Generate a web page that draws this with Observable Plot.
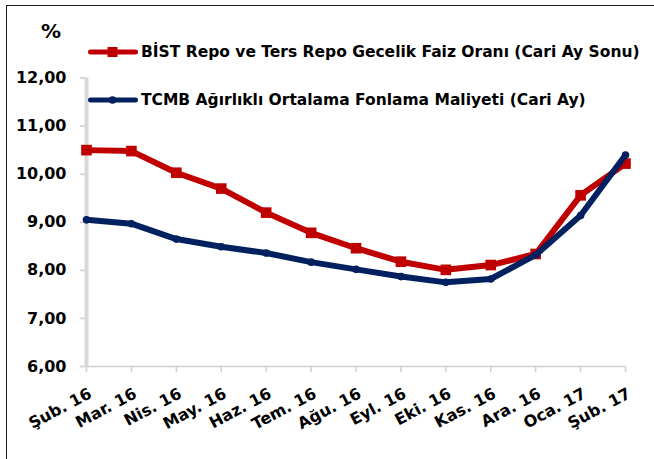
<!DOCTYPE html>
<html>
<head>
<meta charset="utf-8">
<script src="https://cdn.jsdelivr.net/npm/d3@7"></script>
<script src="https://cdn.jsdelivr.net/npm/@observablehq/plot@0.6"></script>
<style>
  body { margin: 0; background: #fff; }
  #wrap { position: relative; width: 654px; height: 459px; overflow: hidden;
          font-family: "DejaVu Sans", sans-serif; font-weight: bold; color: #000; }
  #frame { position: absolute; left: 6px; top: 5px; width: 700px; height: 500px;
           border-left: 1.5px solid #1a1a1a; border-top: 1.5px solid #1a1a1a; }
  #chart { position: absolute; left: 0; top: 0; }
  .unit { position: absolute; left: 41px; top: 19px; font-size: 20px; line-height: 24px; }
  .leg { position: absolute; left: 88px; height: 20px; display: flex; align-items: center;
         font-size: 15.5px; line-height: 20px; white-space: nowrap; }
  .leg svg { margin-right: 3px; flex: none; }
</style>
</head>
<body>
<div id="wrap">
  <div id="frame"></div>
  <div id="chart"></div>
  <div class="unit">%</div>
  <div id="legend"></div>
</div>
<script>
// Data
const months = ["Şub. 16","Mar. 16","Nis. 16","May. 16","Haz. 16","Tem. 16","Ağu. 16",
                "Eyl. 16","Eki. 16","Kas. 16","Ara. 16","Oca. 17","Şub. 17"];
const bist = [10.50, 10.48, 10.03, 9.70, 9.20, 8.78, 8.46, 8.18, 8.01, 8.11, 8.34, 9.56, 10.22];
const tcmb = [9.05, 8.97, 8.65, 8.49, 8.36, 8.17, 8.02, 7.87, 7.75, 7.82, 8.32, 9.14, 10.40];
const yTicks = [6, 7, 8, 9, 10, 11, 12];
const seriesNames = ["BİST Repo ve Ters Repo Gecelik Faiz Oranı (Cari Ay Sonu)",
                     "TCMB Ağırlıklı Ortalama Fonlama Maliyeti (Cari Ay)"];
const RED = "#C00000", NAVY = "#002060";

const data = months.map((m, i) => ({month: m, bist: bist[i], tcmb: tcmb[i]}));
const fmt = d => d.toFixed(2).replace(".", ",");

const chart = Plot.plot({
  width: 654,
  height: 459,
  marginTop: 77.5,
  marginBottom: 93,
  marginLeft: 86,
  marginRight: 29,
  style: {fontFamily: "DejaVu Sans, sans-serif", fontWeight: "bold", background: "transparent", color: "#000"},
  x: {type: "point", domain: months, padding: 0, inset: 0, round: false},
  y: {domain: [6, 12]},
  marks: [
    Plot.axisY({ticks: yTicks, tickSize: 6, tickPadding: 14, tickFormat: fmt, fontSize: 16,
                stroke: "#d9d9d9", strokeWidth: 2, fill: "#000", label: null}),
    Plot.ruleY([6], {stroke: "#d0d0d0", strokeWidth: 1.5}),
    Plot.axisX({tickSize: 6, tickFormat: () => "", stroke: "#d0d0d0", strokeWidth: 1.5, label: null}),
    Plot.ruleX([months[0]], {stroke: "#d9d9d9", strokeWidth: 4}),
    Plot.text(months, {x: d => d, text: d => d, frameAnchor: "bottom", dy: 26, dx: 4,
                       rotate: -28, textAnchor: "end", lineAnchor: "middle", fontSize: 16, fill: "#000"}),
    Plot.line(data, {x: "month", y: "bist", stroke: RED, strokeWidth: 6, strokeLinejoin: "round"}),
    Plot.dot(data, {x: "month", y: "bist", symbol: "square", r: 6, fill: RED}),
    Plot.line(data, {x: "month", y: "tcmb", stroke: NAVY, strokeWidth: 6, strokeLinejoin: "round", strokeLinecap: "round"}),
    Plot.dot(data, {x: "month", y: "tcmb", r: 3.8, fill: NAVY})
  ]
});
document.getElementById("chart").appendChild(chart);

// Legend
const legend = document.getElementById("legend");
const legItems = [
  {name: seriesNames[0], color: RED, marker: "square", top: 41.5},
  {name: seriesNames[1], color: NAVY, marker: "circle", top: 89.5}
];
for (const it of legItems) {
  const div = document.createElement("div");
  div.className = "leg";
  div.style.top = it.top + "px";
  const m = it.marker === "square"
    ? `<rect x="19.5" y="5" width="10" height="10" fill="${it.color}"/>`
    : `<circle cx="24.5" cy="10" r="3.8" fill="${it.color}"/>`;
  div.innerHTML = `<svg width="50" height="20"><line x1="2.5" x2="47.5" y1="10" y2="10" stroke="${it.color}" stroke-width="5" stroke-linecap="round"/>${m}</svg><span>${it.name}</span>`;
  legend.appendChild(div);
}
</script>
</body>
</html>
